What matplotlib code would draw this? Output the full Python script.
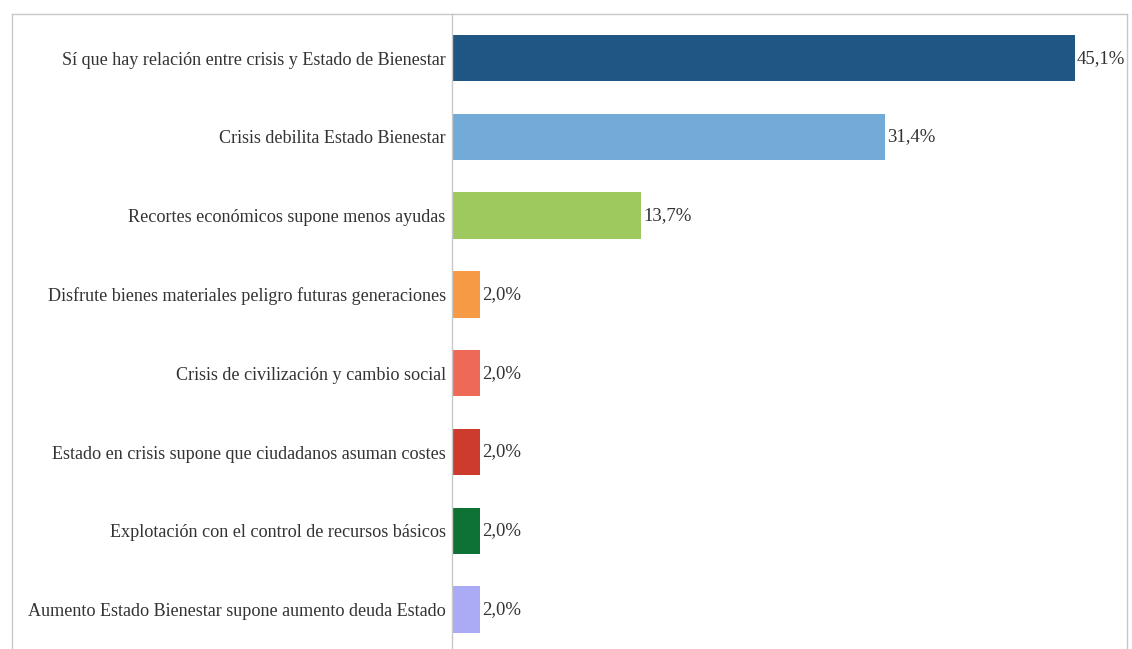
import matplotlib.pyplot as plt
from matplotlib.lines import Line2D

# Datos
categorias = [
    'Sí que hay relación entre crisis y Estado de Bienestar',
    'Crisis debilita Estado Bienestar',
    'Recortes económicos supone menos ayudas',
    'Disfrute bienes materiales peligro futuras generaciones',
    'Crisis de civilización y cambio social',
    'Estado en crisis supone que ciudadanos asuman costes',
    'Explotación con el control de recursos básicos',
    'Aumento Estado Bienestar supone aumento deuda Estado',
]
valores = [45.1, 31.4, 13.7, 2.0, 2.0, 2.0, 2.0, 2.0]
colores = ['#1f5683', '#72aad8', '#9dc95e', '#f79a45', '#ee6a57', '#cc3b2c', '#0f7235', '#abaaf5']

plt.rcParams['font.family'] = ['Liberation Serif', 'DejaVu Serif']

W, H = 1132, 649
fig = plt.figure(figsize=(W / 100, H / 100), dpi=100)
ax = fig.add_axes([452 / W, 0, (1127 - 452) / W, (H - 14) / H])

y = range(len(categorias))
ax.barh(y, valores, height=0.59, color=colores)
ax.set_xlim(0, 48.9)
ax.set_ylim(7.5, -0.56)

for i, v in enumerate(valores):
    ax.annotate(f'{v:.1f}%'.replace('.', ','), (v, i), xytext=(1.5, 0),
                textcoords='offset points', va='center', ha='left',
                fontsize=13.5, color='#333333')

ax.set_yticks(list(y))
ax.set_yticklabels(categorias, fontsize=13.1, color='#333333')
ax.tick_params(axis='y', length=0, pad=4.5)
ax.set_xticks([])

gris = '#c8c8c8'
for lado in ['left', 'top', 'right']:
    ax.spines[lado].set_color(gris)
    ax.spines[lado].set_linewidth(1)
ax.spines['bottom'].set_visible(False)

# marco exterior del gráfico
fig.add_artist(Line2D([12 / W, 452 / W], [1 - 14 / H, 1 - 14 / H], color=gris, lw=1))
fig.add_artist(Line2D([12 / W, 12 / W], [0, 1 - 14 / H], color=gris, lw=1))

fig.savefig('out.png', dpi=100)
